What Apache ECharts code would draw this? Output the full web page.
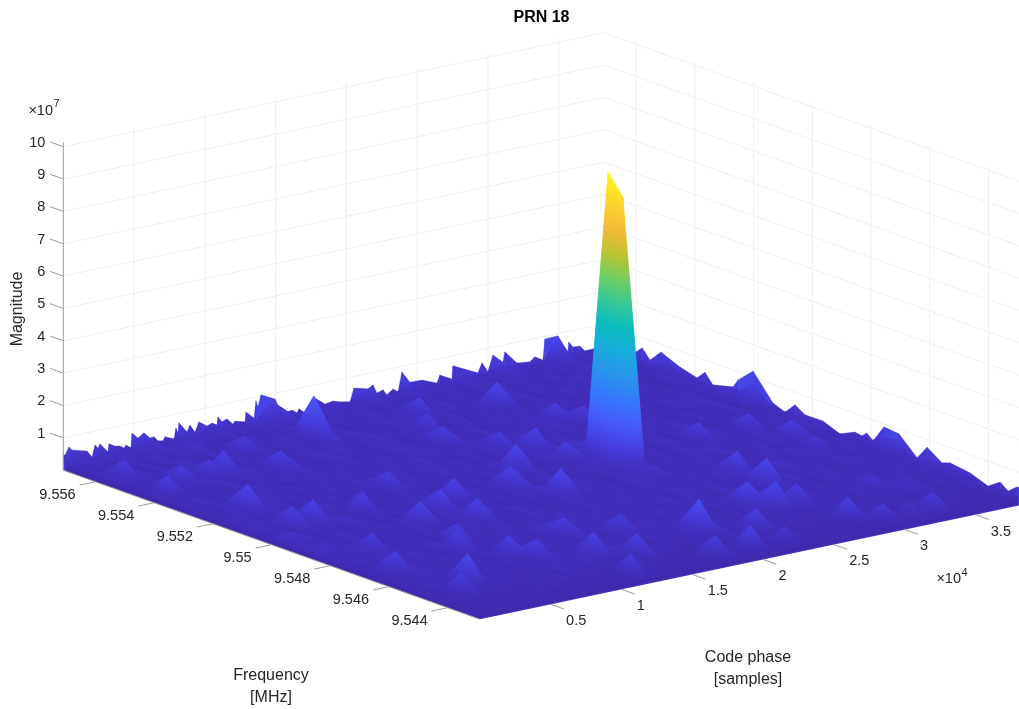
<!DOCTYPE html>
<html>
<head>
<meta charset="utf-8">
<style>html,body{margin:0;padding:0;background:#fff}#chart{width:1019px;height:709px}</style>
<script src="https://cdn.jsdelivr.net/npm/echarts@6/dist/echarts.min.js"></script>
</head>
<body>
<div id="chart"></div>
<script>
// ---------- data (magnitude in units of 1e5) ----------
const titleText = 'PRN 18';
const codeTicks = [5000, 10000, 15000, 20000, 25000, 30000, 35000];
const codeTickLabels = ['0.5', '1', '1.5', '2', '2.5', '3', '3.5'];
const freqTicks = [9.544, 9.546, 9.548, 9.55, 9.552, 9.554, 9.556];
const freqTickLabels = ['9.544', '9.546', '9.548', '9.55', '9.552', '9.554', '9.556'];
const magTicks = [1, 2, 3, 4, 5, 6, 7, 8, 9, 10];
const magTickLabels = ['1', '2', '3', '4', '5', '6', '7', '8', '9', '10'];

// fine outline of the far edge along code phase: [code phase, magnitude]
const backOutline = [[0,47],[120,46],[400,68],[615,57],[1675,44],[2030,22],[2240,57],[2450,46],[2590,57],[3155,28],[3230,52],[3650,41],[4005,38],[4290,29],[4430,37],[4780,25],[4850,70],[5275,51],[5700,63],[6125,43],[6405,44],[6690,29],[7040,26],[7185,37],[7820,25],[7960,57],[8100,40],[8170,71],[8735,38],[8950,57],[9300,32],[9585,61],[10150,43],[10500,49],[10855,40],[10925,64],[11210,46],[11560,52],[11985,32],[12130,40],[12835,31],[12905,61],[13470,37],[13610,89],[13750,69],[13965,104],[14955,82],[15445,32],[16150,37],[16505,25],[16650,36],[17070,20],[17780,59],[18485,34],[19050,38],[19540,31],[20250,25],[20530,65],[21520,53],[21875,62],[22155,34],[22580,40],[22860,22],[23285,36],[23640,24],[23920,83],[24485,46],[25330,45],[26390,26],[26600,49],[27450,29],[27520,69],[29285,31],[29570,59],[29990,28],[30345,76],[31050,48],[31190,78],[32040,36],[32960,31],[33310,43],[33875,28],[34015,92],[34935,93],[35640,37],[35710,67],[35995,49],[36490,47],[36840,29],[37690,30],[38192,16]];
// fine outline of the far edge along frequency: [frequency, magnitude]
const rightOutline = [[9.5571,16],[9.55615,35],[9.5558,68],[9.55553,39],[9.55516,76],[9.55451,51],[9.55393,36],[9.55366,62],[9.55339,32],[9.5527,48],[9.55253,75],[9.55202,119],[9.55134,42],[9.55093,28],[9.55059,61],[9.55025,41],[9.54964,42],[9.54906,21],[9.54855,43],[9.54831,39],[9.54814,53],[9.54793,36],[9.54756,91],[9.54705,86],[9.54643,32],[9.54609,76],[9.54558,44],[9.54531,53],[9.54463,44],[9.54401,23],[9.5436,49],[9.54333,30],[9.54302,53],[9.5429,53]];
// surface samples on the far edges
const backEdge = [40,45,40,38,22,40,28,35,30,30,45,42,40,28,24,25,40,35,35,32,40,38,42,40,30,30,40,34,60,75,70,30,30,30,20,25,40,30,30,30,25,40,48,45,30,30,22,30,40,40,38,38,30,26,35,27,40,40,30,30,28,40,45,40,35,30,30,30,28,70,80,35,40,35,28,28,26,16];
const rightEdge = [16,28,30,32,50,36,30,30,32,45,80,38,28,41,35,30,21,40,36,60,70,30,44,40,44,30,22,30,30];
// rows of the surface from just below the highest frequency to the lowest, code phase ascending
const surfaceRows = [
[22,14,30,18,10,24,36,15,20,12,28, 17,38,13,26,42,11,33,16,24,12,29, 20,15,34,11,25,18,31,14,22,37,16, 10,27,18,40,13,23,15,30,19,12,33, 24,17,28,14,39,21,10,25,16,32,13, 22,35,18,27,11,29,15,41,19,24,12, 31,16,34,20,14,28,10,25,18,36,17],
[13,27,19,34,16,10,30,22,14,38,18, 24,11,31,17,45,21,13,28,10,25,19, 40,15,23,12,32,18,26,36,14,21,10, 30,16,34,19,13,25,41,17,22,11,28, 18,33,15,24,10,31,21,36,16,26,13, 19,30,14,38,22,17,32,12,25,16,35, 20,13,28,18,39,11,24,15,31,19,14],
[30,16,11,25,36,19,13,32,22,10,26, 35,17,20,14,31,12,39,19,24,16,33, 10,28,18,36,15,22,30,13,25,17,34, 21,14,31,11,24,38,16,26,19,35,13, 22,10,30,17,41,23,14,28,18,12,32, 24,16,36,21,13,26,33,15,22,10,30, 18,38,14,25,17,31,20,12,34,16,24],
[14,32,23,13,28,17,39,11,24,18,34, 15,26,10,30,20,36,14,22,17,31,13, 25,19,40,13,28,16,10,33,21,24,15, 35,18,12,30,22,14,32,17,39,25,11, 28,19,34,13,21,16,31,24,10,38,18, 26,13,22,33,17,14,28,19,36,12,25, 16,31,22,10,35,15,20,30,13,26,18],
[24,12,34,18,26,14,21,31,16,36,10, 22,30,15,33,13,25,19,40,17,11,28, 14,24,32,20,10,26,38,17,22,13,31, 16,35,19,25,12,30,15,21,10,34,24, 14,28,39,17,13,32,22,18,26,11,36, 16,25,19,31,13,34,21,10,28,17,39, 13,23,18,30,14,33,24,16,11,31,22],
[18,28,13,24,11,33,17,25,35,15,22, 10,31,19,38,16,24,12,30,21,34,14, 26,10,18,36,23,15,32,12,28,19,40, 13,22,30,16,10,34,25,18,41,13,21, 31,15,24,11,28,19,35,14,22,32,10, 25,17,38,12,26,21,16,31,13,23,33, 19,10,28,15,36,22,13,25,17,32,14],
[33,15,22,10,31,19,13,28,17,38,24, 14,21,34,11,26,18,32,13,39,22,16, 30,12,25,19,35,14,10,24,31,17,21, 38,15,28,13,22,33,19,14,26,10,30, 17,35,21,14,25,12,32,18,40,24,16, 11,30,22,15,34,19,25,13,31,17,21, 36,14,26,11,22,18,32,16,28,13,34],
[17,23,38,16,21,12,32,26,10,18,30, 35,13,25,19,11,31,15,22,36,17,28, 13,33,21,14,26,10,39,18,24,16,30, 12,23,34,17,28,14,21,38,11,31,19, 25,13,34,16,22,30,10,26,18,36,14, 21,32,13,24,17,41,15,28,11,25,19, 31,13,22,35,16,26,12,30,19,14,38],
[12,31,16,26,35,14,24,18,33,13,22, 28,10,17,36,21,15,30,12,25,19,39, 16,23,11,31,14,34,21,26,13,18,38, 10,28,17,24,13,32,22,15,35,18,26, 11,30,14,39,19,24,16,33,13,22,31, 17,10,26,21,36,14,30,18,12,34,24, 15,28,19,11,31,17,38,13,23,21,26],
[26,19,13,36,22,10,30,15,24,41,17, 12,32,21,14,28,18,35,11,24,16,31, 22,38,13,19,30,12,25,17,33,15,23, 28,10,36,18,14,26,21,12,31,16,39, 19,24,13,30,17,10,34,22,15,28,14, 38,18,25,11,31,16,22,35,14,26,10, 24,19,33,13,28,17,14,36,21,12,30],
[14,25,33,17,11,28,19,38,12,23,15, 31,21,13,26,34,16,10,24,18,30,14, 36,22,11,28,17,32,15,25,10,39,19, 13,31,22,16,34,14,24,18,10,28,21, 38,15,26,12,32,17,23,14,36,11,25, 19,30,16,22,13,33,10,26,18,38,15, 24,13,31,21,17,28,12,34,19,25,14],
[31,13,21,28,15,36,11,22,17,32,25, 14,39,18,10,30,23,13,33,16,26,12, 19,28,14,35,21,10,24,17,31,13,26, 22,15,33,11,30,18,36,14,25,19,10, 28,16,34,13,24,21,31,12,17,38,22, 14,26,10,32,18,24,13,30,21,15,35, 17,25,11,28,13,34,19,23,16,31,12],
[16,36,24,12,32,18,26,14,21,10,34, 19,25,13,30,16,38,22,11,28,17,23, 33,13,26,18,10,31,15,36,21,14,24, 30,12,19,35,17,25,10,28,22,14,33, 13,26,18,39,11,24,16,30,21,13,34, 18,28,12,23,38,15,21,31,10,25,17, 35,13,22,30,16,11,26,19,36,14,24],
[23,11,30,19,14,34,24,13,31,17,39, 10,22,28,15,33,13,25,19,31,12,36, 17,24,10,30,21,15,38,13,28,18,22, 11,32,16,26,21,13,35,17,24,12,30, 19,39,14,22,10,28,18,33,15,25,13, 31,21,16,36,11,26,17,22,34,13,30, 10,25,18,38,15,24,12,32,21,17,28],
[10,28,18,35,22,13,31,16,25,12,24, 38,17,21,11,30,19,14,34,24,15,28, 10,36,18,22,26,13,31,16,33,21,12, 25,17,39,14,23,30,11,19,34,15,26, 21,10,31,17,36,13,25,19,28,14,22, 33,12,24,18,30,15,38,21,10,26,16, 31,13,22,34,17,28,14,19,24,11,35],
[25,17,14,31,11,26,21,36,14,19,30, 12,24,33,16,22,10,39,18,26,13,32, 21,15,28,12,35,17,24,14,10,30,19, 34,13,25,18,31,16,22,38,11,28,17, 24,14,33,21,12,30,15,36,19,10,26, 16,23,34,13,28,18,11,32,22,14,25, 39,17,10,30,21,13,26,33,16,24,18],
[19,34,11,22,28,16,13,33,24,15,10, 31,18,26,14,35,21,16,30,10,24,17, 39,12,25,19,31,14,22,34,13,28,17, 10,24,21,36,15,30,13,26,18,11,32, 22,16,38,14,25,19,10,30,17,33,14, 24,12,28,21,15,35,18,26,10,22,31, 13,19,38,16,24,11,30,17,25,34,13],
[28,14,24,16,36,10,23,18,30,13,34, 21,15,28,11,25,17,32,13,22,38,16, 24,10,31,18,13,26,21,35,15,25,12, 30,19,14,33,24,10,28,17,36,13,22, 16,31,11,26,21,34,14,24,18,30,12, 39,16,21,13,31,25,10,19,35,15,28, 22,11,26,18,32,13,24,16,36,12,21],
[15,21,32,13,25,18,34,11,26,17,24, 14,36,10,22,30,16,24,13,31,19,11, 28,34,17,22,14,30,10,24,18,38,16, 26,13,21,31,12,25,17,34,15,23,30, 10,28,18,21,36,13,26,16,32,11,22, 25,17,34,14,10,30,21,15,24,39,13, 18,28,13,22,33,16,25,10,31,17,23],
[22,10,26,17,14,31,21,13,35,16,28, 12,24,18,33,13,30,19,15,25,10,36, 17,22,13,28,38,11,19,26,16,31,14, 23,34,10,18,28,13,24,21,31,12,17, 38,22,15,30,12,25,19,10,35,16,24, 14,31,18,26,12,22,38,17,13,28,10, 33,21,15,24,13,30,19,34,14,26,11],
[13,30,18,34,10,24,15,28,19,12,32, 17,25,14,38,22,11,26,17,35,21,13, 28,16,24,10,32,21,14,30,12,26,18, 36,15,22,11,31,19,25,13,33,16,24, 10,26,17,34,13,22,30,15,21,12,36, 18,11,25,32,16,23,13,30,19,10,34, 15,24,17,28,12,31,21,11,25,17,33],
[24,16,12,28,21,36,13,18,25,10,30, 15,34,19,13,24,31,14,22,10,28,17, 38,12,21,26,15,10,34,17,24,13,31, 19,11,28,16,35,14,22,10,26,18,34, 13,24,21,11,30,16,38,12,25,19,31, 14,22,10,28,35,17,13,26,21,11,24, 18,36,14,30,10,22,16,34,12,25,19],
[11,26,22,14,31,13,19,34,16,24,13, 28,10,21,17,31,12,25,35,15,19,30, 11,24,18,14,33,22,13,28,10,19,36, 16,25,13,30,21,11,34,17,24,14,31, 19,12,28,16,22,10,32,18,26,13,34, 21,15,30,11,24,17,31,13,22,34,15, 10,28,19,13,25,38,16,21,12,31,17],
[18,13,31,10,22,16,26,13,30,19,11, 34,14,24,17,10,28,21,13,33,15,23, 18,30,12,25,16,36,10,21,28,14,19, 11,31,17,24,12,26,15,33,13,22,10, 30,18,25,13,34,11,21,16,28,24,10, 17,36,14,19,30,12,23,16,10,32,21, 13,26,18,11,34,15,24,13,30,19,14],
[14,21,10,25,16,12,30,18,14,23,31, 11,19,26,13,22,15,10,30,17,24,12, 32,16,21,10,13,28,18,11,25,15,22, 30,13,19,10,24,16,26,12,18,31,14, 10,22,17,28,11,24,13,19,31,15,12, 25,10,21,16,30,13,18,26,14,22,11, 28,17,10,24,13,31,18,12,21,15,25],
[10,16,24,13,18,11,22,14,26,12,17, 9,24,15,19,13,28,11,17,22,10,25, 14,12,21,16,9,26,13,18,22,11,15, 24,10,17,13,28,12,19,9,23,15,11, 26,13,18,10,22,16,12,25,14,9,19, 13,24,11,17,15,28,10,21,13,12,23, 16,9,26,14,11,19,22,13,17,10,24],
[12,9,15,19,10,14,13,21,11,16,9, 18,13,10,22,14,11,17,9,15,21,12, 10,18,13,9,16,22,11,14,10,19,13, 9,17,12,21,10,15,13,9,18,11,16, 13,10,22,14,9,17,12,15,10,19,11, 13,9,16,13,21,10,14,12,9,18,15, 11,17,10,13,22,9,15,13,11,16,10],
[9,12,8,14,10,7,13,9,15,8,11, 7,12,9,14,8,10,13,8,11,9,14, 7,12,9,7,15,9,11,13,7,10,8, 14,9,7,12,9,15,7,11,10,8,13, 7,9,14,9,7,12,10,15,8,7,11, 13,9,7,14,10,8,12,7,9,15,7, 11,9,13,8,7,14,10,7,12,9,8]
];
// the correlation peak
const mainPeak = [[50,13,905],[50,14,846],[50,12,62],[50,15,40],[49,13,55],[51,13,48],[49,14,62],[51,14,45],
[50,11,42],[50,16,46],[49,12,44],[49,15,42],[51,12,36],[51,15,36],[48,13,32],[48,14,34],[52,13,28],[52,14,28],[49,16,36],[49,11,28],[48,15,32],[48,16,30],[47,16,26]];
// smaller spikes standing out of the floor: [code index, row index, apex, value of the two code neighbours]
const visiblePeaks = [
[29,3,150,42],[29,4,62,30],[12,5,90,36],[5,10,100,40],[2,3,74,32],[10,5,72,32],[18,6,78,34],[8,13,88,36],[19,3,70,32],
[53,4,100,42],[44,3,76,34],[46,10,88,38],[39,12,100,42],[41,5,72,32],[55,7,74,32],[57,8,72,32],[43,9,72,32],[39,7,74,32],
[37,16,100,42],[34,14,88,38],[26,14,88,38],[23,11,74,34],[22,15,88,38],[23,17,88,38],[17,16,88,38],[27,21,74,34],
[25,24,88,38],[33,22,74,34],[7,24,104,44],[4,25,74,34],[6,18,74,34],[16,19,74,34],[63,13,74,34],[70,13,70,30],
[72,15,74,34],[58,20,100,42],[58,18,90,38],[71,17,62,28],[57,26,82,36],[40,24,120,50],[46,25,82,36],[53,23,100,42],
[51,22,92,40],[56,23,80,36],[41,27,85,34],[36,27,76,32],[67,27,68,30],[64,27,48,24],[46,27,56,26],[60,27,62,28],
[2,6,76,34],[6,5,72,32],[1,15,50,24],[1,17,46,22],[5,13,80,36],[15,13,80,36],[14,20,80,36],[3,21,80,36],
[29,25,80,36],[17,22,80,36],[19,23,76,34],[24,27,72,30],[46,12,76,34],[67,23,52,26],[69,24,42,22]
];
const parulaStops = [
[0,'#3E26A8'],[5,'#463CDE'],[10,'#4758F8'],[15,'#3875FE'],[21,'#2796EB'],[26,'#18ADDB'],[31,'#0BBDBD'],
[36,'#37C897'],[41,'#72CD64'],[46,'#B9C431'],[51,'#F0BA36'],[56,'#FCCF30'],[63,'#F9FB15']
];
const FLOOR_COLOR = '#4030B6';

// ---------- scales ----------
const CODE_COUNT = 78, CODE_MAX = 38192;
const FREQ_COUNT = 29, FREQ_TOP = 9.557, FREQ_STEP = 0.0005, FREQ_MIN = 9.5429, FREQ_MAX = 9.5571;
const MAG_UNIT = 100;           // stored units per 1e7
const MAG_BOX_TOP = 10.13;
const COLOR_MAX = 905;
const FRONT = [480, 619.2], CODE_VEC = [540.7, -114], FREQ_VEC = [-416.7, -149], MAG_VEC = [0, -32.35];

function project(code, freq, mag) {
  const a = code / CODE_MAX, b = (freq - FREQ_MIN) / (FREQ_MAX - FREQ_MIN);
  return [FRONT[0] + a * CODE_VEC[0] + b * FREQ_VEC[0] + mag * MAG_VEC[0],
          FRONT[1] + a * CODE_VEC[1] + b * FREQ_VEC[1] + mag * MAG_VEC[1]];
}

const magnitude = [backEdge.slice()];
surfaceRows.forEach((row, r) => magnitude.push(row.concat([rightEdge[r + 1]])));
visiblePeaks.forEach(p => {
  const row = magnitude[p[1]];
  row[p[0]] = p[2];
  if (p[0] > 0) row[p[0] - 1] = Math.max(row[p[0] - 1], p[3]);
  if (p[0] < CODE_COUNT - 1) row[p[0] + 1] = Math.max(row[p[0] + 1], p[3]);
});
mainPeak.forEach(p => { magnitude[p[1]][p[0]] = p[2]; });
const codeAt = i => i * CODE_MAX / (CODE_COUNT - 1);
const freqAt = j => FREQ_TOP - j * FREQ_STEP;

function parula(t) {
  const x = Math.max(0, Math.min(1, t)) * 63;
  for (let k = 1; k < parulaStops.length; k++) {
    if (x <= parulaStops[k][0]) {
      const a = parulaStops[k - 1], b = parulaStops[k];
      return echarts.color.lerp((x - a[0]) / (b[0] - a[0]), [a[1], b[1]]);
    }
  }
  return parulaStops[parulaStops.length - 1][1];
}

// ---------- triangles, far to near ----------
const triangles = [];
for (let j = 0; j < FREQ_COUNT - 1; j++) {
  for (let i = CODE_COUNT - 2; i >= 0; i--) {
    triangles.push([i, j, 0, i + 1, j, 0, i + 1, j + 1, 0]);
    triangles.push([i, j, 0, i + 1, j + 1, 0, i, j + 1, 0]);
  }
}
for (let i = CODE_COUNT - 2; i >= 0; i--) {
  const j = FREQ_COUNT - 1;
  triangles.push([i, j, 0, i + 1, j, 0, i + 1, j, 1]);
  triangles.push([i, j, 0, i + 1, j, 1, i, j, 1]);
}
for (let j = 0; j < FREQ_COUNT - 1; j++) {
  triangles.push([0, j, 0, 0, j + 1, 0, 0, j + 1, 1]);
  triangles.push([0, j, 0, 0, j + 1, 1, 0, j, 1]);
}

function renderTriangle(params, api) {
  const pts = [], vals = [];
  for (let k = 0; k < 3; k++) {
    const i = api.value(k * 3), j = api.value(k * 3 + 1), floor = api.value(k * 3 + 2);
    const v = floor ? 0 : magnitude[j][i];
    vals.push(v);
    pts.push(api.coord(project(codeAt(i), freqAt(j), v / MAG_UNIT)));
  }
  const vMin = Math.min(...vals), vMax = Math.max(...vals);
  const e1 = [pts[1][0] - pts[0][0], pts[1][1] - pts[0][1]];
  const e2 = [pts[2][0] - pts[0][0], pts[2][1] - pts[0][1]];
  const det = e1[0] * e2[1] - e1[1] * e2[0];
  const d1 = vals[1] - vals[0], d2 = vals[2] - vals[0];
  let fill = parula((vals[0] + vals[1] + vals[2]) / 3 / COLOR_MAX);
  if (Math.abs(det) >= 0.01 && vMax - vMin >= 0.5) {
    const gx = (d1 * e2[1] - d2 * e1[1]) / det, gy = (e1[0] * d2 - e2[0] * d1) / det;
    const g2 = gx * gx + gy * gy;
    const s = pts[vals.indexOf(vMin)];
    const span = vMax - vMin;
    const stops = [{ offset: 0, color: parula(vMin / COLOR_MAX) }];
    parulaStops.forEach(st => {
      const v = st[0] / 63 * COLOR_MAX;
      if (v > vMin && v < vMax) stops.push({ offset: (v - vMin) / span, color: parula(st[0] / 63) });
    });
    stops.push({ offset: 1, color: parula(vMax / COLOR_MAX) });
    fill = new echarts.graphic.LinearGradient(s[0], s[1], s[0] + gx * span / g2, s[1] + gy * span / g2, stops, true);
  }
  const tall = vMax - vMin > 150;
  return { type: 'polygon', shape: { points: pts }, style: { fill: fill, stroke: tall ? fill : null, lineWidth: tall ? 0.5 : 0 } };
}

// ---------- floor under the surface and outlines of the far edges ----------
const floorCorners = [[0, FREQ_MIN, CODE_MAX, FREQ_MIN, CODE_MAX, FREQ_MAX, 0, FREQ_MAX]];
function renderFloor(params, api) {
  const pts = [0, 2, 4, 6].map(k => api.coord(project(api.value(k), api.value(k + 1), 0)));
  return { type: 'polygon', shape: { points: pts }, style: { fill: FLOOR_COLOR } };
}
const outlineStrips = [];
backOutline.forEach((p, k) => { if (k) { const q = backOutline[k - 1]; outlineStrips.push([q[0], FREQ_MAX, q[1], p[0], FREQ_MAX, p[1]]); } });
rightOutline.forEach((p, k) => { if (k) { const q = rightOutline[k - 1]; outlineStrips.push([CODE_MAX, q[0], q[1], CODE_MAX, p[0], p[1]]); } });
function renderStrip(params, api) {
  const c0 = api.value(0), f0 = api.value(1), v0 = api.value(2), c1 = api.value(3), f1 = api.value(4), v1 = api.value(5);
  const pts = [project(c0, f0, v0 / MAG_UNIT), project(c1, f1, v1 / MAG_UNIT), project(c1, f1, 0), project(c0, f0, 0)].map(p => api.coord(p));
  const color = parula((v0 + v1) / 2 / COLOR_MAX);
  return { type: 'polygon', shape: { points: pts }, style: { fill: color, stroke: color, lineWidth: 0.3 } };
}

// ---------- axes drawn as line segments in chart space ----------
const GRID_COLOR = '#efefef', AXIS_COLOR = '#9a9a9a', TEXT_COLOR = '#262626';
const wallLines = [];
magTicks.forEach(m => {
  wallLines.push([0, FREQ_MAX, m, CODE_MAX, FREQ_MAX, m]);
  wallLines.push([CODE_MAX, FREQ_MAX, m, CODE_MAX, FREQ_MIN, m]);
});
codeTicks.forEach(c => wallLines.push([c, FREQ_MAX, 0, c, FREQ_MAX, MAG_BOX_TOP]));
freqTicks.forEach(f => wallLines.push([CODE_MAX, f, 0, CODE_MAX, f, MAG_BOX_TOP]));

const TICK_FREQ = 0.00045, TICK_CODE = 1130;
const axisLines = [[0, FREQ_MAX, 0, 0, FREQ_MAX, MAG_BOX_TOP], [0, FREQ_MAX, 0, 0, FREQ_MIN, 0]];
magTicks.forEach(m => axisLines.push([0, FREQ_MAX, m, 0, FREQ_MAX + TICK_FREQ, m]));
codeTicks.forEach(c => axisLines.push([c, FREQ_MIN, 0, c, FREQ_MIN - TICK_FREQ, 0]));
freqTicks.forEach(f => axisLines.push([0, f, 0, -TICK_CODE, f, 0]));

function renderSegment(color) {
  return function (params, api) {
    const a = api.coord(project(api.value(0), api.value(1), api.value(2)));
    const b = api.coord(project(api.value(3), api.value(4), api.value(5)));
    return { type: 'line', shape: { x1: a[0], y1: a[1], x2: b[0], y2: b[1] }, style: { stroke: color, lineWidth: 1 } };
  };
}

// ---------- text ----------
const FONT_FAMILY = '"Liberation Sans", Helvetica, Arial, sans-serif';
const TICK_FONT = '14.5px ' + FONT_FAMILY;
const LABEL_FONT = '16px ' + FONT_FAMILY;
const SMALL_FONT = '11px ' + FONT_FAMILY;
const texts = [];
magTicks.forEach((m, k) => {
  const p = project(0, FREQ_MAX, m);
  texts.push({ x: p[0] - 18, y: p[1] - 4.2, text: magTickLabels[k], align: 'right', font: TICK_FONT });
});
codeTicks.forEach((c, k) => {
  const p = project(c, FREQ_MIN, 0);
  texts.push({ x: p[0] + 15.3, y: p[1] + 16.8, text: codeTickLabels[k], align: 'left', font: TICK_FONT });
});
freqTicks.forEach((f, k) => {
  const p = project(0, f, 0);
  texts.push({ x: p[0] - 20, y: p[1] + 13, text: freqTickLabels[k], align: 'right', font: TICK_FONT });
});
[['Frequency', 271, 676], ['[MHz]', 271, 698], ['Code phase', 748, 658], ['[samples]', 748, 680]].forEach(t =>
  texts.push({ x: t[1], y: t[2], text: t[0], align: 'center', font: LABEL_FONT }));
texts.push({ x: 18, y: 309, text: 'Magnitude', align: 'center', font: LABEL_FONT, rotate: Math.PI / 2 });
texts.push({ x: 53, y: 111, text: '×10', align: 'right', font: TICK_FONT });
texts.push({ x: 53.5, y: 104, text: '7', align: 'left', font: SMALL_FONT });
texts.push({ x: 961, y: 579, text: '×10', align: 'right', font: TICK_FONT });
texts.push({ x: 961.5, y: 573, text: '4', align: 'left', font: SMALL_FONT });

function renderText(params) {
  const t = texts[params.dataIndex];
  return {
    type: 'text', x: t.x, y: t.y, rotation: t.rotate || 0,
    style: { x: 0, y: 0, text: t.text, fill: TEXT_COLOR, font: t.font, align: t.align, verticalAlign: 'middle' }
  };
}

const chart = echarts.init(document.getElementById('chart'), null, { renderer: 'canvas' });
const customBase = { type: 'custom', coordinateSystem: 'cartesian2d', silent: true, clip: false, progressive: 0 };
chart.setOption({
  animation: false,
  backgroundColor: '#ffffff',
  title: { text: titleText, left: 536.5, top: 5, textAlign: 'center',
    textStyle: { fontFamily: FONT_FAMILY, fontSize: 16, fontWeight: 'bold', color: '#000' } },
  grid: { left: 0, right: 0, top: 0, bottom: 0 },
  xAxis: { type: 'value', min: 0, max: 1019, show: false },
  yAxis: { type: 'value', min: 0, max: 709, inverse: true, show: false },
  series: [
    Object.assign({}, customBase, { renderItem: renderSegment(GRID_COLOR), data: wallLines, z: 1 }),
    Object.assign({}, customBase, { renderItem: renderStrip, data: outlineStrips, z: 2 }),
    Object.assign({}, customBase, { renderItem: renderFloor, data: floorCorners, z: 2 }),
    Object.assign({}, customBase, { renderItem: renderTriangle, data: triangles, z: 3 }),
    Object.assign({}, customBase, { renderItem: renderSegment(AXIS_COLOR), data: axisLines, z: 4 }),
    Object.assign({}, customBase, { renderItem: renderText, data: texts.map((t, k) => [k]), z: 5 })
  ]
});
</script>
</body>
</html>
